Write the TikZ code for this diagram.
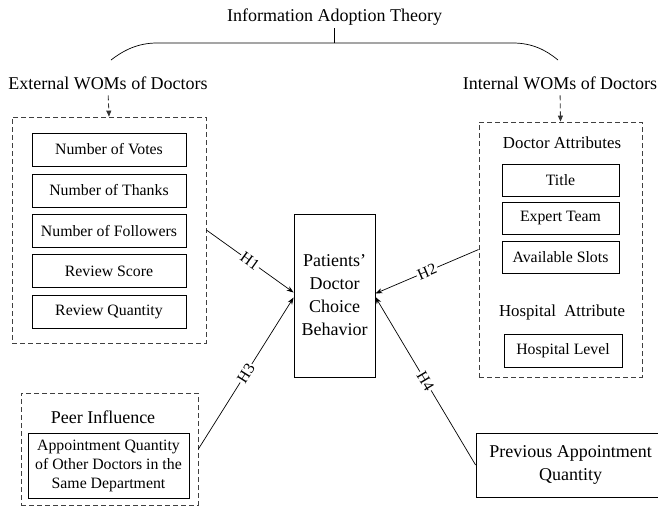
\documentclass[tikz,border=0pt]{standalone}
\usepackage{fontspec}
\setmainfont{Liberation Serif}
\usetikzlibrary{arrows.meta}

\tikzset{
  bigtxt/.style={font=\fontsize{18}{23}\selectfont},
  midtxt/.style={font=\fontsize{16.8}{21}\selectfont},
  smalltxt/.style={font=\fontsize{15.8}{19}\selectfont},
  item/.style={draw=black, line width=0.8pt, smalltxt, minimum width=154pt,
    minimum height=33pt, inner sep=0pt, align=center},
  group/.style={draw=black!75, line width=0.8pt, dash pattern=on 5pt off 3pt},
  label/.style={inner sep=0pt, outer sep=0pt},
  hyp/.style={draw=black, line width=0.7pt, -{Stealth[length=7pt,width=5pt]}},
  hyplab/.style={fill=white, sloped, inner sep=1.2pt, smalltxt, midway},
  feed/.style={draw=black!80, line width=0.8pt, dash pattern=on 5pt off 3pt,
    -{Triangle[length=6pt,width=5pt]}, shorten <=6pt},
}

\begin{document}
\begin{tikzpicture}[x=1pt, y=-1pt]
\useasboundingbox (0,0) rectangle (658,507);

% theory and its two branches
\node[label, bigtxt] (theory) at (334.5,17) {Information Adoption Theory};
\coordinate (braceL) at (111,60);
\coordinate (braceR) at (558,60);
\coordinate (braceM) at (334,43);
\draw[line width=0.7pt] (braceL) .. controls (124,50) and (138,43) .. (157,43)
  -- (513,43) .. controls (532,43) and (546,50) .. (braceR);
\draw[line width=0.7pt] (braceM) -- (334,28);

\node[label, bigtxt] (ext) at (108,83) {External WOMs of Doctors};
\node[label, bigtxt] (int) at (560,83) {Internal WOMs of Doctors};

% external word of mouth group
\node[group, minimum width=194pt, minimum height=226pt, inner sep=0pt]
  (extbox) at (109,230) {};
\node[item] (votes)   at (109,149.5) {Number of Votes};
\node[item] (thanks)  at (109,190.5) {Number of Thanks};
\node[item] (follow)  at (109,231)   {Number of Followers};
\node[item] (rscore)  at (109,271)   {Review Score};
\node[item] (rquant)  at (109,312)   {Review Quantity};

% internal word of mouth group
\node[group, minimum width=163pt, minimum height=255pt, inner sep=0pt]
  (intbox) at (560.5,249.5) {};
\node[label, midtxt] (docattr) at (562,143) {Doctor Attributes};
\node[item, minimum width=117pt, minimum height=32pt] (title)  at (560.5,180)   {Title};
\node[item, minimum width=117pt, minimum height=32pt] (team)   at (560.5,218.5) {Expert Team};
\node[item, minimum width=117pt, minimum height=32pt] (slots)  at (560.5,257)   {Available Slots};
\node[label, midtxt] (hospattr) at (562,312) {Hospital\ \ Attribute};
\node[item, minimum width=118pt, minimum height=33pt] (level)  at (563,350.5) {Hospital Level};

% peer influence group
\node[group, minimum width=177pt, minimum height=112pt, inner sep=0pt]
  (peerbox) at (109.5,449) {};
\node[label, bigtxt] (peer) at (103,417) {Peer Influence};
\node[draw=black, line width=0.8pt, minimum width=161pt, minimum height=65pt,
  inner sep=0pt, align=center, font=\fontsize{15.8}{19}\selectfont]
  (otherdocs) at (108.5,465.5)
  {Appointment Quantity\\of Other Doctors in the\\Same Department};

% previous appointments
\node[draw=black, line width=0.8pt, minimum width=189pt, minimum height=64pt,
  inner sep=0pt, align=center, font=\fontsize{18}{23}\selectfont]
  (prev) at (570.5,465) {Previous Appointment\\Quantity};

% outcome
\node[draw=black, line width=0.8pt, minimum width=81pt, minimum height=163pt,
  inner sep=0pt, align=center, font=\fontsize{18}{23}\selectfont]
  (choice) at (334.5,295.5) {Patients'\\Doctor\\Choice\\Behavior};

% branch arrows
\draw[feed] (ext.south) -- (extbox.north);
\draw[feed] (int.south) -- (intbox.north);

% hypotheses
\draw[hyp] (extbox.east) -- node[hyplab] {H1} ([yshift=3pt]choice.west);
\draw[hyp] (intbox.west) -- node[hyplab] {H2} ([yshift=2pt]choice.east);
\draw[hyp] (peerbox.east) -- node[hyplab] {H3} ([yshift=-2pt]choice.west);
\draw[hyp] (prev.west) -- node[hyplab] {H4} ([yshift=-1.5pt]choice.east);
\end{tikzpicture}
\end{document}
